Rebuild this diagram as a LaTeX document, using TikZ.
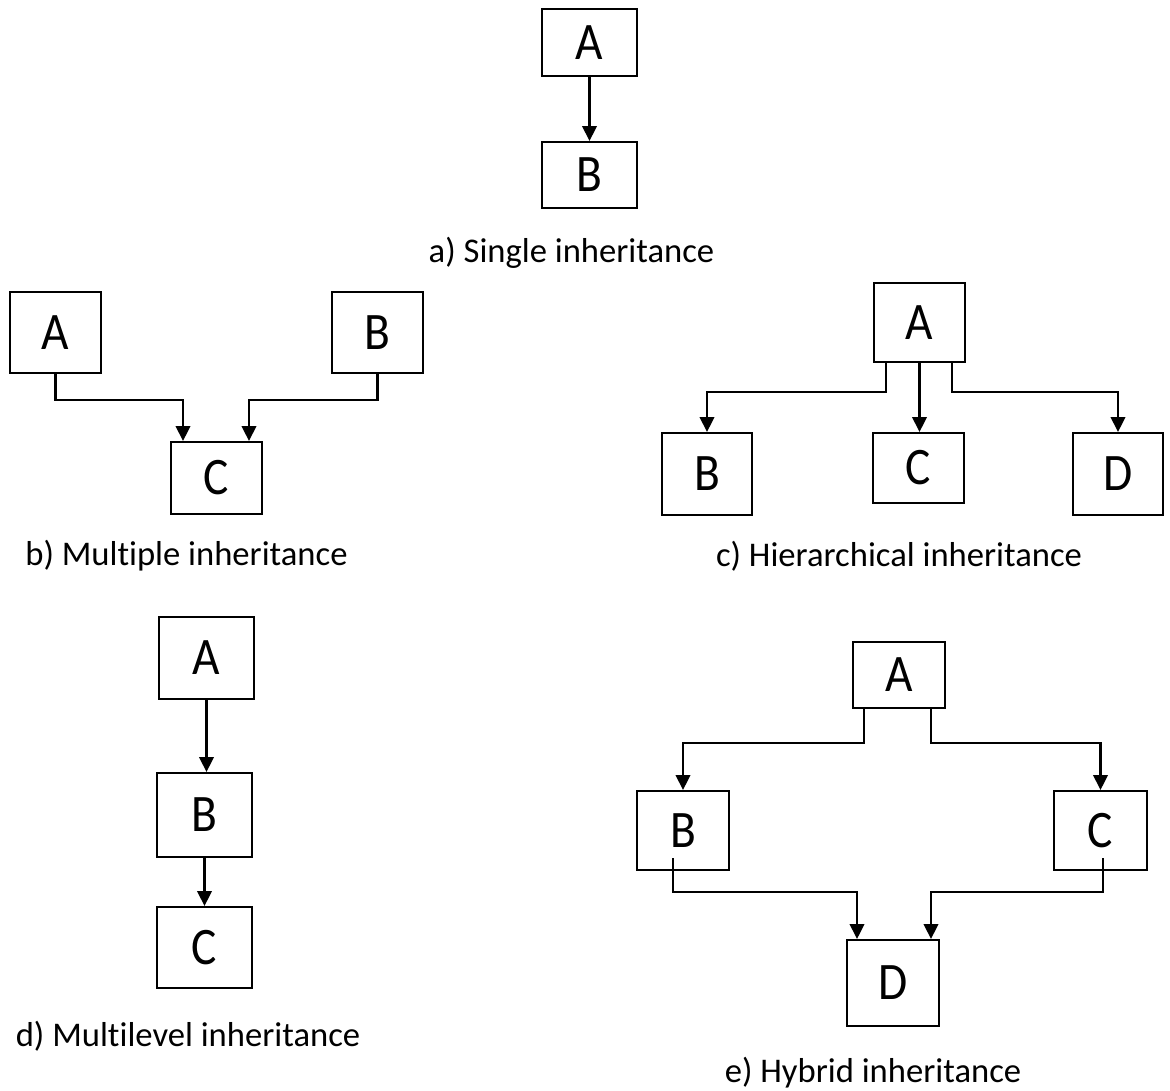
\documentclass[tikz,border=0pt]{standalone}
\usepackage{fontspec}
\setmainfont{Carlito}[Ligatures=NoCommon]
\newfontfamily\boxfont{Carlito}[FakeStretch=0.9]
\usetikzlibrary{arrows.meta,positioning,calc}
\tikzset{
  box/.style={draw, line width=1.15pt, inner sep=0pt, font=\boxfont\fontsize{30}{32}\selectfont},
  arr/.style={line width=1.2pt, -{Triangle[width=0.29cm,length=0.3cm]}},
  caption/.style={inner sep=0pt, font=\fontsize{19.7}{22}\selectfont}
}
\begin{document}
\begin{tikzpicture}[x=0.02cm,y=-0.02cm]
\useasboundingbox (0,0) rectangle (1170,1090);
% a) single
\node[box, minimum width=1.9cm, minimum height=1.34cm] (aA) at (589.5,42.5) {A};
\node[box, minimum width=1.9cm, minimum height=1.32cm] (aB) at (589.5,175) {B};
\draw[arr] (aA.south) -- (aB.north);
\node[caption] (la) at (571.5,253) {a) Single inheritance};
% b) multiple
\node[box, minimum width=1.82cm, minimum height=1.62cm] (bA) at (55.5,332.5) {A};
\node[box, minimum width=1.82cm, minimum height=1.62cm] (bB) at (377.5,332.5) {B};
\node[box, minimum width=1.82cm, minimum height=1.44cm] (bC) at (216.5,478) {C};
\draw[arr] (bA.south) -- ++(0,26) -| ([xshift=-0.67cm]bC.north);
\draw[arr] (bB.south) -- ++(0,26) -| ([xshift=0.65cm]bC.north);
\node[caption] (lb) at (186.5,556) {b) Multiple inheritance};
% c) hierarchical
\node[box, minimum width=1.82cm, minimum height=1.58cm] (cA) at (919.5,322.5) {A};
\node[box, minimum width=1.8cm, minimum height=1.64cm] (cB) at (707,474) {B};
\node[box, minimum width=1.82cm, minimum height=1.4cm] (cC) at (918.5,468) {C};
\node[box, minimum width=1.8cm, minimum height=1.64cm] (cD) at (1118,474) {D};
\draw[arr] ([xshift=-0.67cm]cA.south) -- ++(0,29) -| (cB.north);
\draw[arr] (cA.south) -- (cA.south |- cC.north);
\draw[arr] ([xshift=0.65cm]cA.south) -- ++(0,29) -| (cD.north);
\node[caption] (lc) at (899,556) {c) Hierarchical inheritance};
% d) multilevel
\node[box, minimum width=1.9cm, minimum height=1.64cm] (dA) at (206.5,658) {A};
\node[box, minimum width=1.9cm, minimum height=1.68cm] (dB) at (204.5,815) {B};
\node[box, minimum width=1.9cm, minimum height=1.62cm] (dC) at (204.5,947.5) {C};
\draw[arr] (dA.south) -- (dA.south |- dB.north);
\draw[arr] (dB.south) -- (dB.south |- dC.north);
\node[caption] (ld) at (188,1036) {d) Multilevel inheritance};
% e) hybrid
\node[box, minimum width=1.84cm, minimum height=1.32cm] (eA) at (899,675) {A};
\node[box, minimum width=1.84cm, minimum height=1.58cm] (eB) at (683,830.5) {B};
\node[box, minimum width=1.86cm, minimum height=1.58cm] (eC) at (1100.5,830.5) {C};
\node[box, minimum width=1.84cm, minimum height=1.72cm] (eD) at (893,983) {D};
\draw[arr] ([xshift=-0.7cm]eA.south) -- ++(0,34) -| (eB.north);
\draw[arr] ([xshift=0.64cm]eA.south) -- ++(0,34) -| (eC.north);
\draw[arr] ([xshift=-0.2cm,yshift=0.26cm]eB.south) -- ++(0,34) -| ([xshift=-0.72cm]eD.north);
\draw[arr] ([xshift=0.05cm,yshift=0.26cm]eC.south) -- ++(0,34) -| ([xshift=0.76cm]eD.north);
\node[caption] (le) at (873,1073) {e) Hybrid inheritance};
\end{tikzpicture}
\end{document}
